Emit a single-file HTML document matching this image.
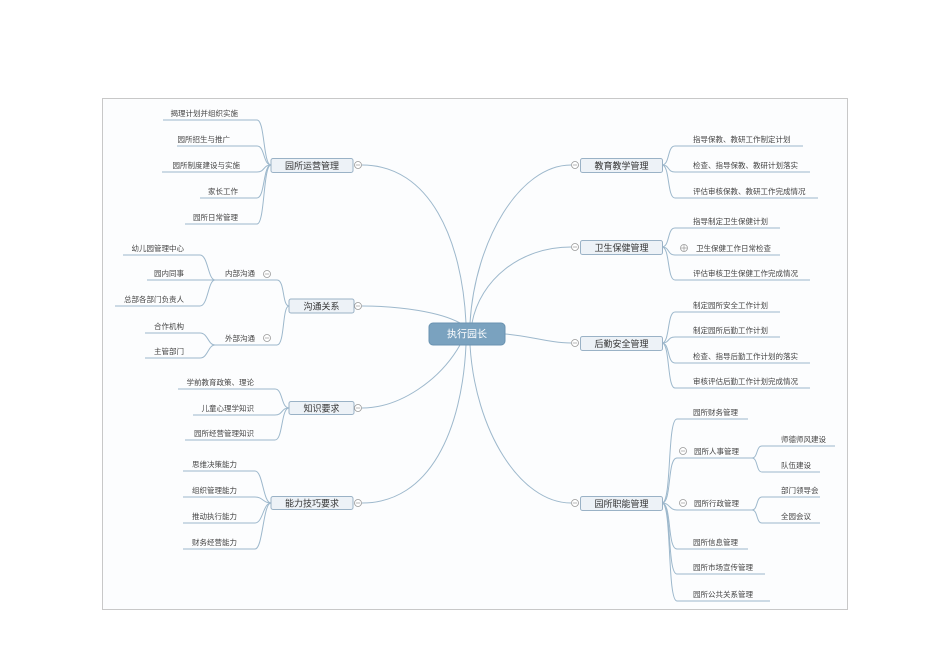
<!DOCTYPE html>
<html><head><meta charset="utf-8"><style>
html,body{margin:0;padding:0;background:#fff;}
svg{display:block;}
text{font-family:"Liberation Sans","Noto Sans CJK SC",sans-serif;fill:#444;}
.l{fill:none;stroke:#9db8cc;stroke-width:1;}
.b{fill:#edf2f7;stroke:#9ab2c6;stroke-width:1;}
.c{fill:#fff;stroke:#999;stroke-width:0.8;}
.t{font-size:7.5px;}
.m{font-size:9px;fill:#333;}
</style></head><body>
<svg width="950" height="672" viewBox="0 0 950 672" xmlns="http://www.w3.org/2000/svg">
<defs>
<g id="mc"><circle class="c" cx="0" cy="0" r="3.5"/><path d="M-2.2,0 h4.4" stroke="#999" stroke-width="0.7"/></g>
</defs>
<rect x="102.5" y="98.5" width="745" height="511" fill="#fcfdfe" stroke="#c8c8c8"/>

<path class="l" d="M466,323 C462,240 430,165 362,165"/>
<path class="l" d="M460,323 C440,312 400,306 362,306"/>
<path class="l" d="M460,345 C440,380 400,408 362,408"/>
<path class="l" d="M466,345 C462,430 430,503 362,503"/>
<path class="l" d="M470,323 C475,240 520,165 571,165"/>
<path class="l" d="M472,323 C480,280 520,247 571,247"/>
<path class="l" d="M505,334 C530,336 550,343 571,343"/>
<path class="l" d="M470,345 C475,430 520,503 571,503"/>

<g>
<path class="l" d="M163,120 L257,120 C265,120 263,165 271,165"/>
<path class="l" d="M177,146 L257,146 C265,146 263,165 271,165"/>
<path class="l" d="M162,172 L257,172 C265,172 263,165 271,165"/>
<path class="l" d="M200,198 L257,198 C265,198 263,165 271,165"/>
<path class="l" d="M185,224 L257,224 C265,224 263,165 271,165"/>
<text class="t" x="238" y="116" text-anchor="end">揭理计划并组织实施</text>
<text class="t" x="230" y="142" text-anchor="end">园所招生与推广</text>
<text class="t" x="240" y="168" text-anchor="end">园所制度建设与实施</text>
<text class="t" x="238" y="194" text-anchor="end">家长工作</text>
<text class="t" x="238" y="220" text-anchor="end">园所日常管理</text>
<rect class="b" x="271" y="158.5" width="82" height="14" rx="2"/>
<text class="m" x="312" y="169" text-anchor="middle">园所运营管理</text>
<use href="#mc" x="358" y="165"/>
</g>

<g>
<path class="l" d="M215,280 L277,280 C285,280 282,306 289,306"/>
<path class="l" d="M215,345 L277,345 C285,345 282,306 289,306"/>
<path class="l" d="M123,255 L200,255 C208,255 208,280 215,280"/>
<path class="l" d="M147,280 L215,280"/>
<path class="l" d="M115,306 L200,306 C208,306 208,280 215,280"/>
<path class="l" d="M145,333 L200,333 C208,333 208,345 215,345"/>
<path class="l" d="M145,358 L200,358 C208,358 208,345 215,345"/>
<text class="t" x="225" y="276">内部沟通</text>
<use href="#mc" x="267" y="274"/>
<text class="t" x="225" y="341">外部沟通</text>
<use href="#mc" x="267" y="338"/>
<text class="t" x="184" y="251" text-anchor="end">幼儿园管理中心</text>
<text class="t" x="184" y="276" text-anchor="end">园内同事</text>
<text class="t" x="184" y="302" text-anchor="end">总部各部门负责人</text>
<text class="t" x="184" y="329" text-anchor="end">合作机构</text>
<text class="t" x="184" y="354" text-anchor="end">主管部门</text>
<rect class="b" x="289" y="299" width="65" height="14" rx="2"/>
<text class="m" x="321.5" y="309.5" text-anchor="middle">沟通关系</text>
<use href="#mc" x="358" y="306"/>
</g>

<g>
<path class="l" d="M178,389 L275,389 C283,389 281,408 289,408"/>
<path class="l" d="M193,415 L275,415 C283,415 281,408 289,408"/>
<path class="l" d="M185,440 L275,440 C283,440 281,408 289,408"/>
<text class="t" x="254" y="385" text-anchor="end">学前教育政策、理论</text>
<text class="t" x="254" y="411" text-anchor="end">儿童心理学知识</text>
<text class="t" x="254" y="436" text-anchor="end">园所经营管理知识</text>
<rect class="b" x="289" y="401.5" width="65" height="13" rx="2"/>
<text class="m" x="321.5" y="411.5" text-anchor="middle">知识要求</text>
<use href="#mc" x="358" y="408"/>
</g>

<g>
<path class="l" d="M183,471 L255,471 C263,471 263,503 271,503"/>
<path class="l" d="M183,497 L255,497 C263,497 263,503 271,503"/>
<path class="l" d="M183,523 L255,523 C263,523 263,503 271,503"/>
<path class="l" d="M183,549 L255,549 C263,549 263,503 271,503"/>
<text class="t" x="237" y="467" text-anchor="end">思维决策能力</text>
<text class="t" x="237" y="493" text-anchor="end">组织管理能力</text>
<text class="t" x="237" y="519" text-anchor="end">推动执行能力</text>
<text class="t" x="237" y="545" text-anchor="end">财务经营能力</text>
<rect class="b" x="271" y="496.5" width="82" height="13" rx="2"/>
<text class="m" x="312" y="506.5" text-anchor="middle">能力技巧要求</text>
<use href="#mc" x="358" y="503"/>
</g>

<g>
<path class="l" d="M662,165 C670,165 667,146 675,146 L803,146"/>
<path class="l" d="M662,165 C670,165 667,172 675,172 L810,172"/>
<path class="l" d="M662,165 C670,165 667,198 675,198 L818,198"/>
<text class="t" x="693" y="142">指导保教、教研工作制定计划</text>
<text class="t" x="693" y="168">检查、指导保教、教研计划落实</text>
<text class="t" x="693" y="194">评估审核保教、教研工作完成情况</text>
<rect class="b" x="580.5" y="158.5" width="82" height="14" rx="2"/>
<text class="m" x="621.5" y="169" text-anchor="middle">教育教学管理</text>
<use href="#mc" x="575" y="165"/>
</g>

<g>
<path class="l" d="M662,247 C670,247 667,228 675,228 L780,228"/>
<path class="l" d="M662,247 C670,247 667,255 675,255 L780,255"/>
<path class="l" d="M662,247 C670,247 667,280 675,280 L810,280"/>
<text class="t" x="693" y="224">指导制定卫生保健计划</text>
<circle class="c" cx="684" cy="248" r="3.5"/>
<path d="M681,248 h6 M684,245 v6" stroke="#999" stroke-width="0.7"/>
<text class="t" x="696" y="251">卫生保健工作日常检查</text>
<text class="t" x="693" y="276">评估审核卫生保健工作完成情况</text>
<rect class="b" x="580.5" y="240.5" width="82" height="14" rx="2"/>
<text class="m" x="621.5" y="251" text-anchor="middle">卫生保健管理</text>
<use href="#mc" x="575" y="247"/>
</g>

<g>
<path class="l" d="M662,343 C670,343 667,312 675,312 L780,312"/>
<path class="l" d="M662,343 C670,343 667,337 675,337 L780,337"/>
<path class="l" d="M662,343 C670,343 667,363 675,363 L810,363"/>
<path class="l" d="M662,343 C670,343 667,388 675,388 L810,388"/>
<text class="t" x="693" y="308">制定园所安全工作计划</text>
<text class="t" x="693" y="333">制定园所后勤工作计划</text>
<text class="t" x="693" y="359">检查、指导后勤工作计划的落实</text>
<text class="t" x="693" y="384">审核评估后勤工作计划完成情况</text>
<rect class="b" x="580.5" y="336.5" width="82" height="14" rx="2"/>
<text class="m" x="621.5" y="347" text-anchor="middle">后勤安全管理</text>
<use href="#mc" x="575" y="343"/>
</g>

<g>
<path class="l" d="M662,503 C672,503 667,419 677,419 L748,419"/>
<path class="l" d="M662,503 C672,503 667,458 677,458 L752,458"/>
<path class="l" d="M662,503 C670,503 669,510 677,510 L752,510"/>
<path class="l" d="M662,503 C672,503 667,549 677,549 L748,549"/>
<path class="l" d="M662,503 C672,503 667,574 677,574 L765,574"/>
<path class="l" d="M662,503 C672,503 667,601 677,601 L770,601"/>
<path class="l" d="M752,458 C758,458 756,446 762,446 L835,446"/>
<path class="l" d="M752,458 C758,458 756,472 762,472 L820,472"/>
<path class="l" d="M752,510 C758,510 756,497 762,497 L820,497"/>
<path class="l" d="M752,510 C758,510 756,523 762,523 L820,523"/>
<text class="t" x="693" y="415">园所财务管理</text>
<use href="#mc" x="683" y="451"/>
<text class="t" x="694" y="454">园所人事管理</text>
<use href="#mc" x="683" y="503"/>
<text class="t" x="694" y="506">园所行政管理</text>
<text class="t" x="693" y="545">园所信息管理</text>
<text class="t" x="693" y="570">园所市场宣传管理</text>
<text class="t" x="693" y="597">园所公共关系管理</text>
<text class="t" x="781" y="442">师德师风建设</text>
<text class="t" x="781" y="468">队伍建设</text>
<text class="t" x="781" y="493">部门领导会</text>
<text class="t" x="781" y="519">全园会议</text>
<rect class="b" x="580.5" y="496.5" width="82" height="14" rx="2"/>
<text class="m" x="621.5" y="507" text-anchor="middle">园所职能管理</text>
<use href="#mc" x="575" y="503"/>
</g>

<rect x="429" y="323" width="76" height="22" rx="4" fill="#7aa2bf" stroke="#6a93b1"/>
<text x="467" y="337.5" text-anchor="middle" style="font-size:10px;fill:#fff;">执行园长</text>
</svg>
</body></html>
